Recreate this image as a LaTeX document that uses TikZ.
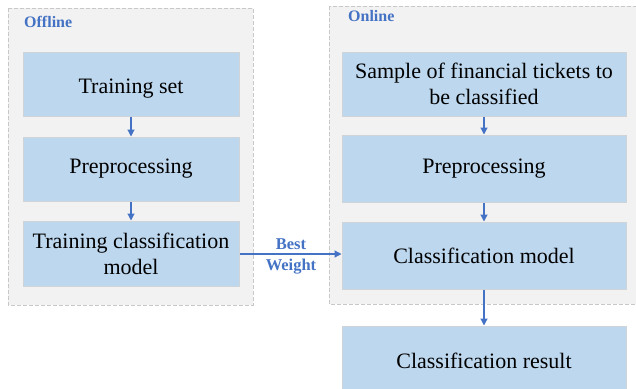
\documentclass[tikz,border=0pt]{standalone}
\usepackage{fontspec}
\setmainfont{Liberation Serif}
\usetikzlibrary{arrows.meta}
\definecolor{boxfill}{HTML}{BDD7EE}
\definecolor{boxline}{HTML}{CFD4D9}
\definecolor{panelfill}{HTML}{F2F2F2}
\definecolor{panelline}{HTML}{C8C8C8}
\definecolor{accent}{HTML}{4472C4}
\tikzset{
  panel/.style={draw=panelline, fill=panelfill, dashed, dash pattern=on 4pt off 2pt, line width=0.8pt},
  stepbox/.style={draw=boxline, fill=boxfill, line width=1pt, inner sep=0pt, align=center, font=\fontsize{22}{26}\selectfont},
  paneltitle/.style={text=accent, font=\bfseries\fontsize{16}{18}\selectfont, anchor=west, inner sep=0pt},
  flow/.style={draw=accent, line width=1.2pt, -{Triangle[width=7pt,length=7pt]}},
  wlabel/.style={text=accent, font=\bfseries\fontsize{16.5}{21}\selectfont, align=center, inner sep=0pt}
}
\begin{document}
\begin{tikzpicture}[x=1pt,y=-1pt]
\useasboundingbox (0,0) rectangle (636,388);
\clip (0,0) rectangle (636,388);
% panels
\draw[panel] (8,8) rectangle (253,305);
\draw[panel] (329,6) rectangle (650,304);
\node[paneltitle] (offl) at (24,22) {Offline};
\node[paneltitle] (onl) at (348,16) {Online};
% left boxes
\node[stepbox, minimum width=216pt, minimum height=64pt, label={[font=\fontsize{22}{26}\selectfont, inner sep=0pt, yshift=-5pt]center:Training set}] (l1) at (131,84) {};
\node[stepbox, minimum width=216pt, minimum height=64pt] (l2) at (131,169) {Preprocessing};
\node[stepbox, minimum width=216pt, minimum height=65pt] (l3) at (131,253.5) {Training classification\\model};
% right boxes
\node[stepbox, minimum width=284pt, minimum height=64pt] (r1) at (484,84) {Sample of financial tickets to\\be classified};
\node[stepbox, minimum width=284pt, minimum height=67pt] (r2) at (484,168.5) {Preprocessing};
\node[stepbox, minimum width=284pt, minimum height=67pt] (r3) at (484,255.5) {Classification model};
\node[stepbox, minimum width=284pt, minimum height=70pt] (r4) at (484,361) {Classification result};
% connectors
\draw[flow] (l1) -- (l2);
\draw[flow] (l2) -- (l3);
\draw[flow] (r1) -- (r2);
\draw[flow] (r2) -- (r3);
\draw[flow] (r3) -- (r4);
\draw[flow] (l3.east |- 0,254) -- (r3.west |- 0,254);
\node[wlabel] (bw) at (291,256) {Best\\Weight};
\end{tikzpicture}
\end{document}
